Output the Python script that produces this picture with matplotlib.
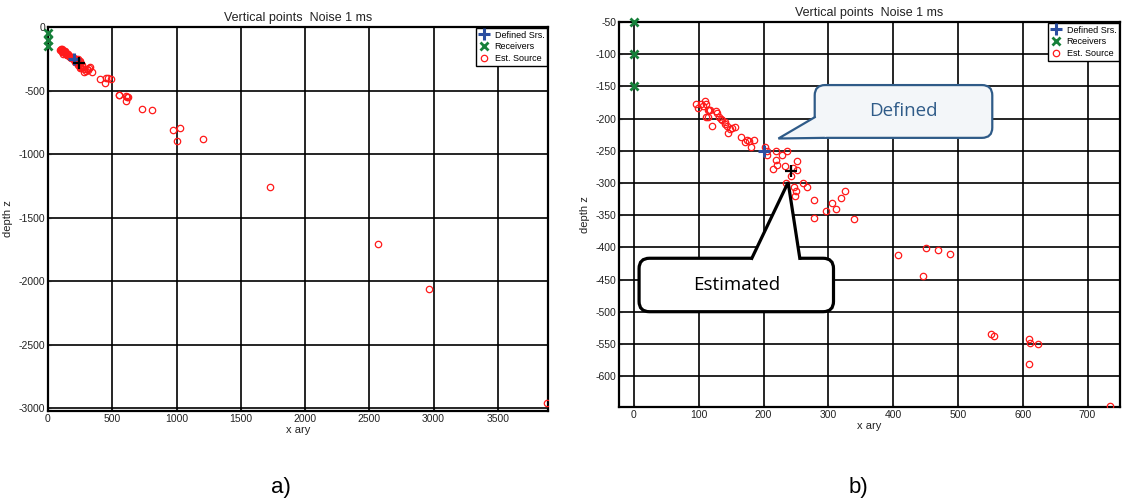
import numpy as np
import matplotlib
matplotlib.use("Agg")
import matplotlib.pyplot as plt
from matplotlib.patches import FancyBboxPatch, Polygon

plt.rcParams['font.family'] = ['Liberation Sans', 'DejaVu Sans']
plt.rcParams['axes.unicode_minus'] = False

# estimated source locations (x ary, depth z)
est_x = [96, 99, 103, 107, 110, 112, 114, 116, 118, 111, 114, 120, 127, 129, 131,
         135, 136, 140, 141, 143, 145, 148, 151, 156, 166, 172, 174, 177, 180, 185,
         202, 205, 206, 220, 228, 236, 214, 219, 221, 233, 242, 246, 252, 252, 235,
         247, 250, 248, 261, 267, 278, 297, 306, 312, 320, 326, 339, 278,
         407, 450, 470, 488, 446, 551, 556, 610, 611, 624, 609, 735,
         809, 973, 1027, 1003, 1206, 1730, 2565, 2965, 3880]
est_z = [-178, -183, -177, -180, -173, -178, -187, -186, -186, -198, -198, -212, -188, -192, -197,
         -200, -203, -205, -208, -212, -222, -217, -214, -213, -229, -236, -233, -235, -244, -233,
         -244, -251, -257, -251, -256, -250, -278, -264, -272, -273, -289, -277, -266, -280, -300,
         -306, -312, -320, -300, -307, -327, -343, -331, -340, -324, -312, -356, -355,
         -412, -401, -404, -411, -444, -535, -537, -542, -548, -550, -581, -646,
         -654, -811, -795, -898, -882, -1255, -1709, -2062, -2960]

defined_x = [200]
defined_z = [-250]
rec_x = [0, 0, 0]
rec_z = [-50, -100, -150]
estimated_x = [242]
estimated_z = [-282]

title = 'Vertical points  Noise 1 ms'


def panel(ax, xlim, ylim, xticks, yticks):
    ax.plot(est_x, est_z, 'o', ls='none', ms=4.6, mfc='none', mec='#ff1a1a', mew=0.9,
            label='Est. Source', zorder=3)
    ax.plot(defined_x, defined_z, '+', ms=9, mew=2.2, color='#2b4ea0', label='Defined Srs.', zorder=4)
    ax.plot(rec_x, rec_z, 'x', ms=6, mew=2.0, color='#17803a', label='Receivers', zorder=4,
            clip_on=False)
    ax.plot(estimated_x, estimated_z, '+', ms=9, mew=1.6, color='black', zorder=5)
    ax.set_xlim(xlim)
    ax.set_ylim(ylim)
    ax.set_xticks(xticks)
    ax.set_yticks(yticks)
    ax.grid(True, color='black', lw=1.2, ls='-')
    ax.set_axisbelow(True)
    for s in ax.spines.values():
        s.set_linewidth(1.6)
    ax.tick_params(direction='in', length=2, labelsize=7.5, colors='#222222', pad=2)
    ax.set_title(title, fontsize=9, pad=4, color='#222222')
    ax.set_xlabel('x ary', fontsize=8, labelpad=1, color='#222222')
    ax.set_ylabel('depth z', fontsize=8, labelpad=4, color='#222222')
    h, l = ax.get_legend_handles_labels()
    order = [l.index('Defined Srs.'), l.index('Receivers'), l.index('Est. Source')]
    leg = ax.legend([h[i] for i in order], [l[i] for i in order], loc='upper right',
                    fontsize=6.5, handlelength=1.2, borderaxespad=0.1, fancybox=False,
                    edgecolor='black', framealpha=1, borderpad=0.3, labelspacing=0.3,
                    handletextpad=0.6)
    leg.get_frame().set_linewidth(1.0)
    leg.set_zorder(10)


def callout(ax, box, tail, fill_extra, text, edge, fill, tcolor, lw):
    x0, y0, x1, y1 = box
    p = FancyBboxPatch((x0, y0), x1 - x0, y1 - y0, boxstyle='round,pad=0,rounding_size=16',
                       transform=ax.transData, clip_on=False, fc=fill, ec=edge, lw=lw, zorder=6)
    ax.add_patch(p)
    cover = Polygon(tail + fill_extra, closed=True, fc=fill, ec='none', zorder=7, clip_on=False)
    ax.add_patch(cover)
    tx = [t[0] for t in tail]
    ty = [t[1] for t in tail]
    ax.plot(tx, ty, color=edge, lw=lw, zorder=8, clip_on=False, solid_joinstyle='miter')
    ax.text((x0 + x1) / 2, (y0 + y1) / 2, text, ha='center', va='center', fontsize=13.5,
            color=tcolor, family='Open Sans', zorder=9)


fig = plt.figure(figsize=(11.24, 5.04), dpi=100)
ax1 = fig.add_axes([0.0427, 0.1845, 0.4448, 0.762])
ax2 = fig.add_axes([0.5507, 0.1925, 0.4457, 0.7639])

panel(ax1, (0, 3890), (-3020, 0), np.arange(0, 3501, 500), np.arange(-3000, 1, 500))
panel(ax2, (-23, 750), (-648, -50), np.arange(0, 701, 100), np.arange(-600, -49, 50))

callout(ax2, (279, -230, 553, -148),
        [(279, -198), (223, -231), (293, -230)],
        [(305, -222), (292, -198)],
        'Defined', '#2f5b88', '#f3f6f9', '#2f5b88', 1.6)
callout(ax2, (8, -500, 308, -417),
        [(182, -417), (238, -299), (256, -417)],
        [(256, -428), (182, -428)],
        'Estimated', 'black', 'white', 'black', 2.3)

fig.text(0.25, 0.032, 'a)', fontsize=16, ha='center', va='center')
fig.text(0.7635, 0.032, 'b)', fontsize=16, ha='center', va='center')

fig.savefig('out.png', dpi=100)
